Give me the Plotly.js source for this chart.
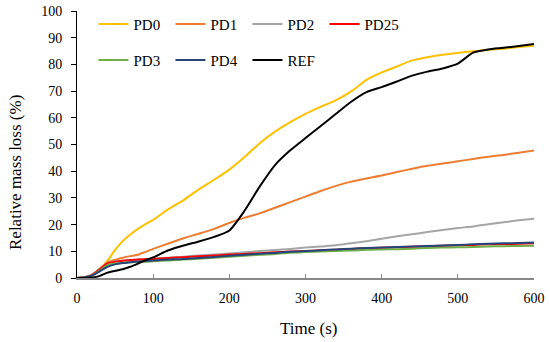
<!DOCTYPE html>
<html>
<head>
<meta charset="utf-8">
<script src="https://cdn.plot.ly/plotly-3.0.1.min.js"></script>
<style>html,body{margin:0;padding:0;background:#fff;}#chart{width:550px;height:342px;}</style>
</head>
<body>
<div id="chart"></div>
<script>
const time = [0,10,20,30,40,50,60,70,80,90,100,120,140,160,180,200,220,240,260,280,300,320,340,360,380,400,420,440,460,480,500,520,540,560,580,600];
const PD0 = [0,0.3,1.2,3.5,6.5,10.5,13.8,16.3,18.4,20.2,21.8,25.8,29.2,33.2,36.8,40.6,45.3,50.5,54.8,58.4,61.5,64.1,66.6,69.9,74.2,77.0,79.2,81.5,82.7,83.6,84.3,84.9,85.5,85.9,86.5,87.0];
const PD1 = [0,0.3,1.2,3.5,5.8,6.8,7.6,8.2,8.7,9.8,10.9,12.9,14.9,16.6,18.4,20.6,22.6,24.2,26.3,28.4,30.5,32.6,34.5,36.1,37.3,38.4,39.7,40.9,42.0,42.9,43.7,44.6,45.4,46.1,46.9,47.8];
const PD2 = [0,0.3,1.2,3.5,5.6,6.2,6.5,6.7,6.9,7.1,7.3,7.6,8.0,8.4,8.8,9.2,9.6,10.1,10.5,10.9,11.4,11.8,12.3,13.0,13.8,14.7,15.6,16.4,17.2,18.0,18.7,19.3,20.1,20.9,21.6,22.2];
const PD25 = [0,0.3,1.2,3.3,5.5,6.1,6.5,6.7,6.9,7.0,7.1,7.5,7.8,8.1,8.4,8.8,9.0,9.3,9.6,9.9,10.1,10.4,10.6,10.9,11.1,11.3,11.5,11.7,11.9,12.1,12.3,12.4,12.6,12.7,12.8,13.0];
const PD3 = [0,0.3,1.0,2.8,4.8,5.4,5.7,5.9,6.0,6.1,6.3,6.6,6.9,7.2,7.6,8.0,8.3,8.7,9.0,9.5,9.7,9.9,10.1,10.3,10.6,10.7,10.8,11.0,11.2,11.4,11.5,11.6,11.8,11.9,12.0,12.1];
const PD4 = [0,0.3,1.0,2.5,4.2,5.1,5.6,5.9,6.2,6.4,6.6,6.9,7.1,7.5,7.9,8.3,8.7,9.1,9.4,9.8,10.1,10.4,10.7,11.0,11.2,11.4,11.6,11.8,12.0,12.2,12.4,12.6,12.8,13.0,13.1,13.3];
const REF = [0,0,0.2,0.8,2.0,2.7,3.3,4.2,5.4,6.7,7.7,10.4,12.2,13.7,15.4,17.8,25.2,34.3,42.3,47.8,52.4,56.9,61.5,66.0,69.6,71.5,73.6,75.8,77.3,78.5,80.3,84.4,85.6,86.2,86.9,87.6];

const names = ['PD0','PD1','PD2','PD25','PD3','PD4','REF'];
const series = [PD0,PD1,PD2,PD25,PD3,PD4,REF];
const colors = ['#FFC000','#ED7D31','#A5A5A5','#FF0000','#70AD47','#264478','#000000'];
const legendOf = ['legend','legend','legend','legend','legend2','legend2','legend2'];
const xTitle = 'Time (s)';
const yTitle = 'Relative mass loss (%)';

const traces = series.map((v,i)=>({
  x: time, y: v, name: names[i], type:'scatter', mode:'lines',
  line:{color:colors[i], width:2, shape:'spline', smoothing:0.6},
  legend: legendOf[i]
}));

const FAM = 'Times New Roman, Liberation Serif, DejaVu Serif, serif';
const legendBase = {orientation:'h', xanchor:'left', yanchor:'top', bgcolor:'rgba(0,0,0,0)',
  font:{family:FAM, size:15, color:'#000'}, entrywidth:32, entrywidthmode:'pixels', itemwidth:30, traceorder:'normal'};

const layout = {
  width:550, height:342,
  margin:{l:77, r:16, t:11, b:64, autoexpand:false},
  paper_bgcolor:'#fff', plot_bgcolor:'#fff',
  font:{family:FAM, size:14, color:'#000'},
  showlegend:true,
  legend: Object.assign({}, legendBase, {x:0.036, y:1.012}),
  legend2: Object.assign({}, legendBase, {x:0.036, y:0.877}),
  xaxis:{
    range:[0,600], dtick:100, tick0:0, showgrid:false, zeroline:false,
    showline:true, linecolor:'#888888', linewidth:2,
    ticks:'inside', ticklen:4, tickcolor:'#888888', tickwidth:1,
    ticklabelstandoff:6,
    tickfont:{family:FAM, size:14, color:'#000'}
  },
  yaxis:{
    range:[0,100], dtick:10, tick0:0, showgrid:false, zeroline:false,
    showline:true, linecolor:'#000', linewidth:1,
    ticks:'outside', ticklen:5, tickcolor:'#000', tickwidth:1,
    ticklabelstandoff:6,
    tickfont:{family:FAM, size:14, color:'#000'}
  },
  annotations:[
    {text:xTitle, xref:'paper', yref:'paper', x:(308-77)/457, y:-(328-278)/267, xanchor:'center', yanchor:'middle', showarrow:false, font:{family:FAM, size:17, color:'#000'}},
    {text:yTitle, xref:'paper', yref:'paper', x:-(77-16)/457, y:(278-172)/267, xanchor:'center', yanchor:'middle', textangle:-90, showarrow:false, font:{family:FAM, size:17, color:'#000'}}
  ]
};

Plotly.newPlot('chart', traces, layout, {staticPlot:true, displayModeBar:false});
</script>
</body>
</html>
